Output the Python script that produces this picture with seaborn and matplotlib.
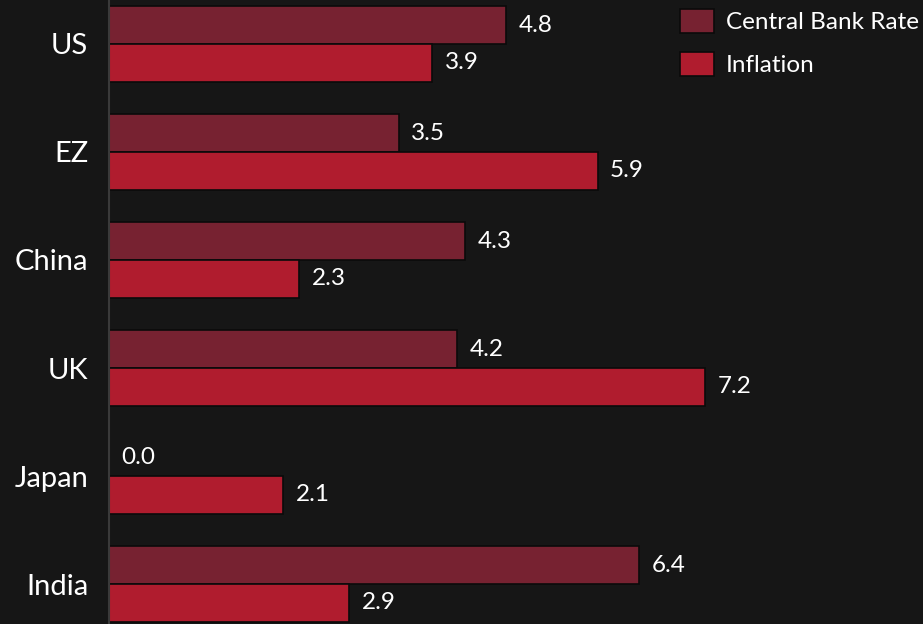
import matplotlib
matplotlib.use("Agg")
import matplotlib.pyplot as plt
import seaborn as sns
import pandas as pd

countries = ["US", "EZ", "China", "UK", "Japan", "India"]
central_bank_rate = [4.8, 3.5, 4.3, 4.2, 0.0, 6.4]
inflation = [3.9, 5.9, 2.3, 7.2, 2.1, 2.9]
series_names = ["Central Bank Rate", "Inflation"]
colors = ["#772231", "#B01C2E"]

df = pd.DataFrame({
    "country": countries * 2,
    "value": central_bank_rate + inflation,
    "series": [series_names[0]] * len(countries) + [series_names[1]] * len(countries),
})

sns.set_theme(style="dark")
bg = "#161616"
plt.rcParams["font.family"] = ["Lato", "DejaVu Sans"]

fig = plt.figure(figsize=(9.23, 6.24), dpi=100, facecolor=bg)
ax = fig.add_axes([109 / 923, 0, 1 - 109 / 923, 1])
ax.set_facecolor(bg)

sns.barplot(data=df, y="country", x="value", hue="series", orient="h",
            palette=colors, width=0.7, edgecolor="#0a0a0a", linewidth=1.2,
            ax=ax, order=countries, hue_order=series_names, saturation=1)

for c in ax.containers:
    ax.bar_label(c, fmt="%.1f", padding=9, color="white", fontsize=17.5)

ax.set_xlim(0, 9.83)
ax.set_ylim(5.37, -0.407)
ax.set_xlabel("")
ax.set_ylabel("")
ax.set_xticks([])
ax.tick_params(axis="y", colors="white", labelsize=21, length=0, pad=15)
for s in ["top", "right", "bottom"]:
    ax.spines[s].set_visible(False)
ax.spines["left"].set_color("#3a3a3a")
ax.spines["left"].set_linewidth(1.5)
ax.grid(False)

leg = ax.legend(loc="upper left", bbox_to_anchor=(680 / 923, 1 - 9 / 624),
                bbox_transform=fig.transFigure, frameon=False, fontsize=17.5,
                handlelength=1.4, handleheight=1.15, handletextpad=0.5,
                labelspacing=0.75, borderpad=0, borderaxespad=0)
for t in leg.get_texts():
    t.set_color("white")

fig.savefig("out.png", dpi=100, facecolor=bg)
